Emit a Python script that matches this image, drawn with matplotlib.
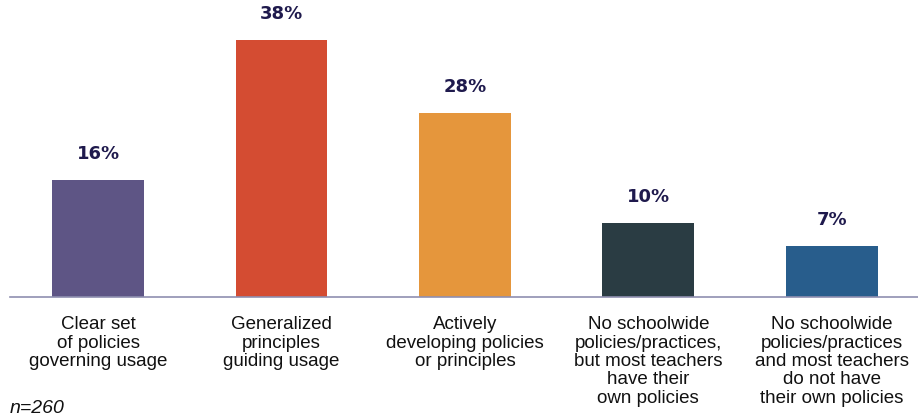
"""Bar chart of school policies on usage."""
import matplotlib.pyplot as plt

categories = [
    'Clear set\nof policies\ngoverning usage',
    'Generalized\nprinciples\nguiding usage',
    'Actively\ndeveloping policies\nor principles',
    'No schoolwide\npolicies/practices,\nbut most teachers\nhave their\nown policies',
    'No schoolwide\npolicies/practices\nand most teachers\ndo not have\ntheir own policies',
]
labels = ['16%', '38%', '28%', '10%', '7%']
# bar heights as drawn in the picture
heights = [17.3, 38, 27.2, 10.9, 7.5]
colors = ['#5e5585', '#d44c32', '#e5963c', '#2a3c43', '#285d8c']

fig = plt.figure(figsize=(9.18, 4.19), dpi=100)
ax = fig.add_axes([10 / 918, 122 / 419, 908 / 918, 297 / 419])

x = range(len(categories))
ax.bar(x, heights, width=0.5, color=colors)

for xi, h, lab in zip(x, heights, labels):
    ax.annotate(lab, (xi, h), xytext=(0, 19), textcoords='offset points',
                ha='center', va='center', fontsize=13, fontweight='bold',
                color='#1f1a4d', family='DejaVu Sans')

for xi, cat in zip(x, categories):
    ax.text(xi, -0.065, cat, transform=ax.get_xaxis_transform(),
            ha='center', va='top', fontsize=13.5, linespacing=1.1,
            color='#111111', family='Liberation Sans')

ax.set_xlim(-0.48, 4.47)
ax.set_ylim(0, 43.9)
for side in ['top', 'right', 'left']:
    ax.spines[side].set_visible(False)
ax.spines['bottom'].set_color('#8f8fb0')
ax.spines['bottom'].set_linewidth(1.2)
ax.set_xticks([])
ax.set_yticks([])

fig.text(10 / 918, 1 - 408 / 419, 'n=260', fontstyle='italic', fontsize=14,
         va='center', ha='left', color='#111111', family='Liberation Sans')

fig.savefig('out.png', dpi=100)
plt.close(fig)
